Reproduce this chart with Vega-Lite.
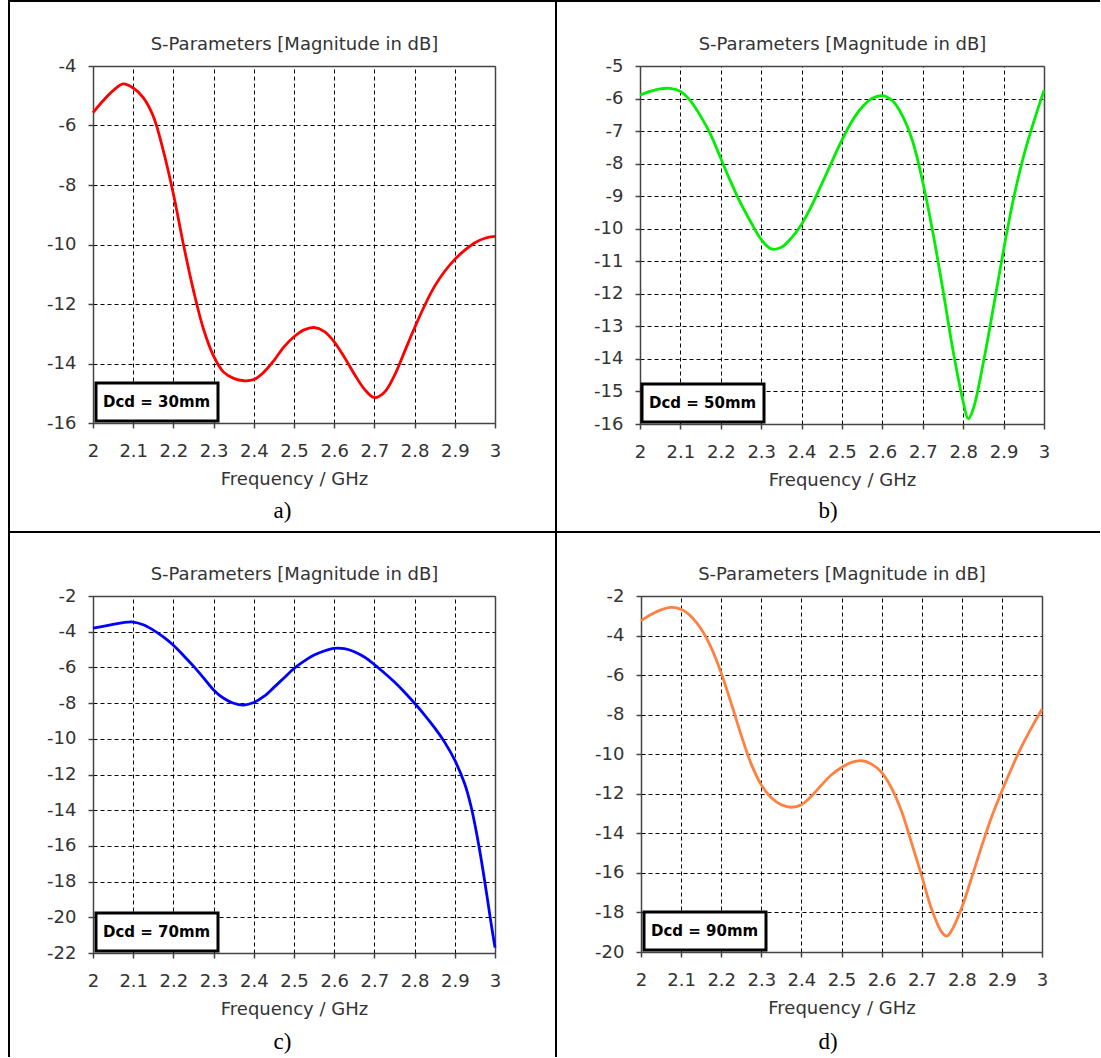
{
  "$schema": "https://vega.github.io/schema/vega-lite/v6.json",
  "background": "white",
  "padding": {"left": 8, "top": 0, "right": 0, "bottom": 0},
  "columns": 2,
  "spacing": 0,
  "bounds": "flush",
  "resolve": {"scale": {"color": "independent"}, "legend": {"color": "independent"}},
  "datasets": {
    "a": [
      {"f": 2.000, "s": -5.57}, {"f": 2.025, "s": -5.17}, {"f": 2.050, "s": -4.83}, {"f": 2.075, "s": -4.60},
      {"f": 2.100, "s": -4.74}, {"f": 2.125, "s": -5.06}, {"f": 2.150, "s": -5.69}, {"f": 2.175, "s": -6.85},
      {"f": 2.200, "s": -8.30}, {"f": 2.225, "s": -10.00}, {"f": 2.250, "s": -11.55}, {"f": 2.275, "s": -12.85},
      {"f": 2.300, "s": -13.75}, {"f": 2.325, "s": -14.29}, {"f": 2.350, "s": -14.50}, {"f": 2.375, "s": -14.58},
      {"f": 2.400, "s": -14.54}, {"f": 2.425, "s": -14.29}, {"f": 2.450, "s": -13.90}, {"f": 2.475, "s": -13.44},
      {"f": 2.500, "s": -13.10}, {"f": 2.525, "s": -12.87}, {"f": 2.550, "s": -12.79}, {"f": 2.575, "s": -12.92},
      {"f": 2.600, "s": -13.27}, {"f": 2.625, "s": -13.78}, {"f": 2.650, "s": -14.35}, {"f": 2.675, "s": -14.86},
      {"f": 2.700, "s": -15.15}, {"f": 2.725, "s": -14.97}, {"f": 2.750, "s": -14.40}, {"f": 2.775, "s": -13.60},
      {"f": 2.800, "s": -12.80}, {"f": 2.825, "s": -12.05}, {"f": 2.850, "s": -11.40}, {"f": 2.875, "s": -10.90},
      {"f": 2.900, "s": -10.50}, {"f": 2.925, "s": -10.19}, {"f": 2.950, "s": -9.94}, {"f": 2.975, "s": -9.79},
      {"f": 3.000, "s": -9.73}
    ],
    "b": [
      {"f": 2.000, "s": -5.89}, {"f": 2.025, "s": -5.78}, {"f": 2.050, "s": -5.70}, {"f": 2.075, "s": -5.69},
      {"f": 2.100, "s": -5.78}, {"f": 2.125, "s": -6.07}, {"f": 2.150, "s": -6.54}, {"f": 2.175, "s": -7.11},
      {"f": 2.200, "s": -7.84}, {"f": 2.225, "s": -8.57}, {"f": 2.250, "s": -9.24}, {"f": 2.275, "s": -9.81},
      {"f": 2.300, "s": -10.33}, {"f": 2.325, "s": -10.62}, {"f": 2.350, "s": -10.57}, {"f": 2.375, "s": -10.28},
      {"f": 2.400, "s": -9.86}, {"f": 2.425, "s": -9.29}, {"f": 2.450, "s": -8.62}, {"f": 2.475, "s": -7.94},
      {"f": 2.500, "s": -7.27}, {"f": 2.525, "s": -6.69}, {"f": 2.550, "s": -6.26}, {"f": 2.575, "s": -5.99},
      {"f": 2.600, "s": -5.91}, {"f": 2.625, "s": -6.07}, {"f": 2.650, "s": -6.54}, {"f": 2.675, "s": -7.32},
      {"f": 2.700, "s": -8.57}, {"f": 2.725, "s": -10.12}, {"f": 2.750, "s": -11.89}, {"f": 2.775, "s": -13.76},
      {"f": 2.800, "s": -15.32}, {"f": 2.8125, "s": -15.84}, {"f": 2.825, "s": -15.53}, {"f": 2.850, "s": -14.10},
      {"f": 2.875, "s": -12.40}, {"f": 2.900, "s": -10.65}, {"f": 2.925, "s": -9.05}, {"f": 2.950, "s": -7.75},
      {"f": 2.975, "s": -6.70}, {"f": 3.000, "s": -5.75}
    ],
    "c": [
      {"f": 2.000, "s": -3.80}, {"f": 2.025, "s": -3.70}, {"f": 2.050, "s": -3.59}, {"f": 2.075, "s": -3.49},
      {"f": 2.100, "s": -3.46}, {"f": 2.125, "s": -3.61}, {"f": 2.150, "s": -3.91}, {"f": 2.175, "s": -4.29},
      {"f": 2.200, "s": -4.76}, {"f": 2.225, "s": -5.33}, {"f": 2.250, "s": -5.93}, {"f": 2.275, "s": -6.59},
      {"f": 2.300, "s": -7.26}, {"f": 2.325, "s": -7.73}, {"f": 2.350, "s": -8.01}, {"f": 2.375, "s": -8.11},
      {"f": 2.400, "s": -7.97}, {"f": 2.425, "s": -7.63}, {"f": 2.450, "s": -7.12}, {"f": 2.475, "s": -6.59},
      {"f": 2.500, "s": -6.06}, {"f": 2.525, "s": -5.65}, {"f": 2.550, "s": -5.31}, {"f": 2.575, "s": -5.08},
      {"f": 2.600, "s": -4.93}, {"f": 2.625, "s": -4.95}, {"f": 2.650, "s": -5.12}, {"f": 2.675, "s": -5.42},
      {"f": 2.700, "s": -5.84}, {"f": 2.725, "s": -6.31}, {"f": 2.750, "s": -6.82}, {"f": 2.775, "s": -7.39},
      {"f": 2.800, "s": -8.01}, {"f": 2.825, "s": -8.67}, {"f": 2.850, "s": -9.39}, {"f": 2.875, "s": -10.20},
      {"f": 2.900, "s": -11.20}, {"f": 2.925, "s": -12.55}, {"f": 2.940, "s": -13.75}, {"f": 2.950, "s": -14.80},
      {"f": 2.960, "s": -16.00}, {"f": 2.970, "s": -17.35}, {"f": 2.980, "s": -18.80}, {"f": 2.990, "s": -20.30},
      {"f": 3.000, "s": -21.70}
    ],
    "d": [
      {"f": 2.000, "s": -3.25}, {"f": 2.025, "s": -2.94}, {"f": 2.050, "s": -2.70}, {"f": 2.075, "s": -2.58},
      {"f": 2.100, "s": -2.67}, {"f": 2.125, "s": -3.04}, {"f": 2.150, "s": -3.67}, {"f": 2.175, "s": -4.61},
      {"f": 2.200, "s": -5.89}, {"f": 2.225, "s": -7.43}, {"f": 2.250, "s": -9.05}, {"f": 2.275, "s": -10.50},
      {"f": 2.300, "s": -11.55}, {"f": 2.325, "s": -12.20}, {"f": 2.350, "s": -12.55}, {"f": 2.375, "s": -12.68},
      {"f": 2.400, "s": -12.55}, {"f": 2.425, "s": -12.12}, {"f": 2.450, "s": -11.56}, {"f": 2.475, "s": -11.04},
      {"f": 2.500, "s": -10.67}, {"f": 2.525, "s": -10.41}, {"f": 2.550, "s": -10.33}, {"f": 2.575, "s": -10.50},
      {"f": 2.600, "s": -10.92}, {"f": 2.625, "s": -11.72}, {"f": 2.650, "s": -12.90}, {"f": 2.675, "s": -14.50},
      {"f": 2.700, "s": -16.15}, {"f": 2.725, "s": -17.85}, {"f": 2.750, "s": -19.00}, {"f": 2.7625, "s": -19.20},
      {"f": 2.775, "s": -18.90}, {"f": 2.800, "s": -17.75}, {"f": 2.825, "s": -16.22}, {"f": 2.850, "s": -14.62},
      {"f": 2.875, "s": -13.14}, {"f": 2.900, "s": -11.86}, {"f": 2.925, "s": -10.67}, {"f": 2.950, "s": -9.58},
      {"f": 2.975, "s": -8.62}, {"f": 3.000, "s": -7.73}
    ]
  },
  "concat": [
    {
      "width": 547, "height": 531,
      "title": {"text": "a)", "offset": -32},
      "data": {"name": "a"},
      "layer": [
        {
          "mark": {"type": "line", "strokeWidth": 2.8, "interpolate": "catmull-rom"},
          "encoding": {
            "x": {"field": "f", "type": "quantitative",
              "scale": {"domain": [2, 3], "range": [84, 486], "nice": false, "zero": false},
              "axis": {"orient": "bottom", "offset": -109, "values": [2, 2.1, 2.2, 2.3, 2.4, 2.5, 2.6, 2.7, 2.8, 2.9, 3], "grid": false, "labelExpr": "'' + datum.value", "labelPadding": 14, "title": "Frequency / GHz", "titleBaseline": "alphabetic", "titlePadding": 24}},
            "y": {"field": "s", "type": "quantitative",
              "scale": {"domain": [-16, -4], "range": [422, 65], "nice": false, "zero": false},
              "axis": {"orient": "left", "offset": -84, "values": [-16, -14, -12, -10, -8, -6, -4], "grid": true, "labelExpr": "'' + datum.value", "labelPadding": 12, "title": null}},
            "color": {"datum": "Dcd = 30mm", "type": "nominal", "scale": {"range": ["#ff0000"]},
              "legend": {"orient": "none", "legendX": 87, "legendY": 382}}
          }
        },
        {
          "mark": {"type": "line", "opacity": 0},
          "encoding": {
            "x": {"field": "f", "type": "quantitative",
              "axis": {"orient": "top", "offset": -65, "labels": false, "ticks": false, "grid": true, "values": [2.1, 2.2, 2.3, 2.4, 2.5, 2.6, 2.7, 2.8, 2.9], "title": "S-Parameters [Magnitude in dB]", "titleBaseline": "alphabetic", "titlePadding": 17}},
            "y": {"field": "s", "type": "quantitative",
              "axis": {"orient": "right", "offset": -61, "labels": false, "ticks": false, "grid": false, "title": null}}
          }
        }
      ]
    },
    {
      "width": 544, "height": 531,
      "view": {"stroke": "black", "strokeWidth": 2, "strokeDash": [544, 531]},
      "title": {"text": "b)", "offset": -32},
      "data": {"name": "b"},
      "layer": [
        {
          "mark": {"type": "line", "strokeWidth": 2.8, "interpolate": "catmull-rom"},
          "encoding": {
            "x": {"field": "f", "type": "quantitative",
              "scale": {"domain": [2, 3], "range": [84, 488], "nice": false, "zero": false},
              "axis": {"orient": "bottom", "offset": -108, "values": [2, 2.1, 2.2, 2.3, 2.4, 2.5, 2.6, 2.7, 2.8, 2.9, 3], "grid": false, "labelExpr": "'' + datum.value", "labelPadding": 14, "title": "Frequency / GHz", "titleBaseline": "alphabetic", "titlePadding": 24}},
            "y": {"field": "s", "type": "quantitative",
              "scale": {"domain": [-16, -5], "range": [423, 65], "nice": false, "zero": false},
              "axis": {"orient": "left", "offset": -84, "values": [-16, -15, -14, -13, -12, -11, -10, -9, -8, -7, -6, -5], "grid": true, "labelExpr": "'' + datum.value", "labelPadding": 12, "title": null}},
            "color": {"datum": "Dcd = 50mm", "type": "nominal", "scale": {"range": ["#00ee00"]},
              "legend": {"orient": "none", "legendX": 86, "legendY": 383}}
          }
        },
        {
          "mark": {"type": "line", "opacity": 0},
          "encoding": {
            "x": {"field": "f", "type": "quantitative",
              "axis": {"orient": "top", "offset": -65, "labels": false, "ticks": false, "grid": true, "values": [2.1, 2.2, 2.3, 2.4, 2.5, 2.6, 2.7, 2.8, 2.9], "title": "S-Parameters [Magnitude in dB]", "titleBaseline": "alphabetic", "titlePadding": 17}},
            "y": {"field": "s", "type": "quantitative",
              "axis": {"orient": "right", "offset": -56, "labels": false, "ticks": false, "grid": false, "title": null}}
          }
        }
      ]
    },
    {
      "width": 547, "height": 525,
      "view": {"stroke": "black", "strokeWidth": 2, "strokeDash": [1072, 547, 525]},
      "title": {"text": "c)", "offset": -26},
      "data": {"name": "c"},
      "layer": [
        {
          "mark": {"type": "line", "strokeWidth": 2.8, "interpolate": "catmull-rom"},
          "encoding": {
            "x": {"field": "f", "type": "quantitative",
              "scale": {"domain": [2, 3], "range": [84, 486], "nice": false, "zero": false},
              "axis": {"orient": "bottom", "offset": -104, "values": [2, 2.1, 2.2, 2.3, 2.4, 2.5, 2.6, 2.7, 2.8, 2.9, 3], "grid": false, "labelExpr": "'' + datum.value", "labelPadding": 14, "title": "Frequency / GHz", "titleBaseline": "alphabetic", "titlePadding": 24}},
            "y": {"field": "s", "type": "quantitative",
              "scale": {"domain": [-22, -2], "range": [421, 64], "nice": false, "zero": false},
              "axis": {"orient": "left", "offset": -84, "values": [-22, -20, -18, -16, -14, -12, -10, -8, -6, -4, -2], "grid": true, "labelExpr": "'' + datum.value", "labelPadding": 12, "title": null}},
            "color": {"datum": "Dcd = 70mm", "type": "nominal", "scale": {"range": ["#0000ff"]},
              "legend": {"orient": "none", "legendX": 87, "legendY": 381}}
          }
        },
        {
          "mark": {"type": "line", "opacity": 0},
          "encoding": {
            "x": {"field": "f", "type": "quantitative",
              "axis": {"orient": "top", "offset": -64, "labels": false, "ticks": false, "grid": true, "values": [2.1, 2.2, 2.3, 2.4, 2.5, 2.6, 2.7, 2.8, 2.9], "title": "S-Parameters [Magnitude in dB]", "titleBaseline": "alphabetic", "titlePadding": 17}},
            "y": {"field": "s", "type": "quantitative",
              "axis": {"orient": "right", "offset": -61, "labels": false, "ticks": false, "grid": false, "title": null}}
          }
        }
      ]
    },
    {
      "width": 544, "height": 525,
      "view": {"stroke": null},
      "title": {"text": "d)", "offset": -26},
      "data": {"name": "d"},
      "layer": [
        {
          "mark": {"type": "line", "strokeWidth": 2.8, "interpolate": "catmull-rom"},
          "encoding": {
            "x": {"field": "f", "type": "quantitative",
              "scale": {"domain": [2, 3], "range": [85, 486], "nice": false, "zero": false},
              "axis": {"orient": "bottom", "offset": -105, "values": [2, 2.1, 2.2, 2.3, 2.4, 2.5, 2.6, 2.7, 2.8, 2.9, 3], "grid": false, "labelExpr": "'' + datum.value", "labelPadding": 14, "title": "Frequency / GHz", "titleBaseline": "alphabetic", "titlePadding": 24}},
            "y": {"field": "s", "type": "quantitative",
              "scale": {"domain": [-20, -2], "range": [420, 64], "nice": false, "zero": false},
              "axis": {"orient": "left", "offset": -85, "values": [-20, -18, -16, -14, -12, -10, -8, -6, -4, -2], "grid": true, "labelExpr": "'' + datum.value", "labelPadding": 12, "title": null}},
            "color": {"datum": "Dcd = 90mm", "type": "nominal", "scale": {"range": ["#ff8040"]},
              "legend": {"orient": "none", "legendX": 88, "legendY": 380}}
          }
        },
        {
          "mark": {"type": "line", "opacity": 0},
          "encoding": {
            "x": {"field": "f", "type": "quantitative",
              "axis": {"orient": "top", "offset": -64, "labels": false, "ticks": false, "grid": true, "values": [2.1, 2.2, 2.3, 2.4, 2.5, 2.6, 2.7, 2.8, 2.9], "title": "S-Parameters [Magnitude in dB]", "titleBaseline": "alphabetic", "titlePadding": 17}},
            "y": {"field": "s", "type": "quantitative",
              "axis": {"orient": "right", "offset": -58, "labels": false, "ticks": false, "grid": false, "title": null}}
          }
        }
      ]
    }
  ],
  "config": {
    "view": {"stroke": "black", "strokeWidth": 2},
    "axis": {
      "labelFont": "DejaVu Sans", "labelFontSize": 18, "labelColor": "#333",
      "titleFont": "DejaVu Sans", "titleFontSize": 18, "titleFontWeight": "normal", "titleColor": "#333",
      "domainColor": "#444", "domainWidth": 1.5, "tickColor": "#444", "tickWidth": 1.5, "tickSize": 5,
      "gridColor": "black", "gridDash": [4, 3], "gridWidth": 1, "gridOpacity": 1,
      "labelFlush": false, "labelOverlap": false, "labelBound": false
    },
    "legend": {
      "title": null, "padding": 7, "strokeColor": "black", "strokeWidth": 3, "fillColor": "white",
      "symbolType": "square", "symbolSize": 576, "symbolOpacity": 0, "symbolStrokeWidth": 0,
      "labelOffset": -24, "labelFont": "DejaVu Sans", "labelFontSize": 15, "labelFontWeight": "bold", "labelColor": "black"
    },
    "title": {"orient": "bottom", "baseline": "top", "anchor": "middle", "frame": "group", "font": "Liberation Serif", "fontSize": 23, "fontWeight": "normal", "color": "black"}
  }
}
